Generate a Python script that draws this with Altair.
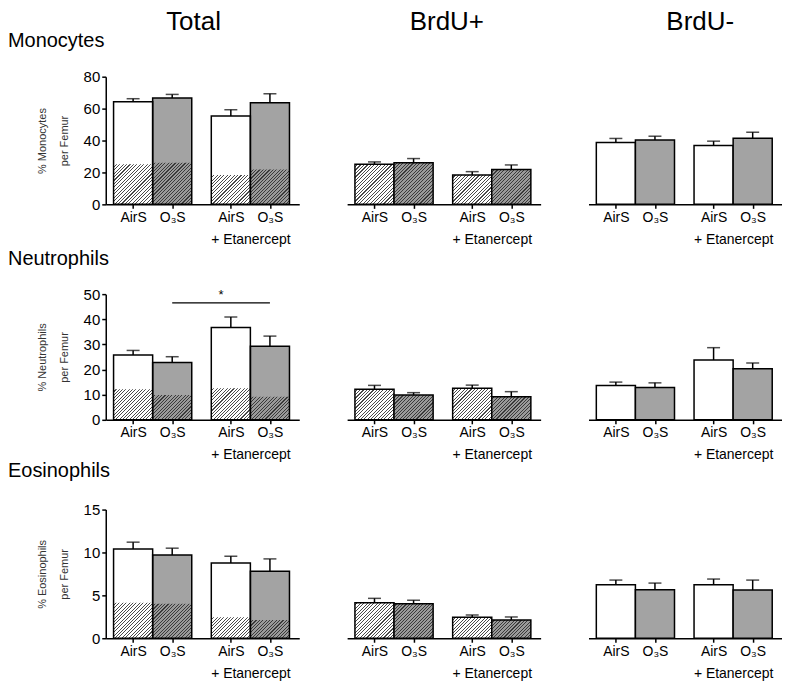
import json
import altair as alt
import pandas as pd

FONT = "Liberation Sans"

# ---------------- data ----------------
treatments = ["AirS", "O₃S", "AirS", "O₃S"]
groups = ["", "", "+ Etanercept", "+ Etanercept"]
column_titles = ["Total", "BrdU+", "BrdU-"]
cell_types = ["Monocytes", "Neutrophils", "Eosinophils"]
y_max = [80, 50, 15]
y_step = [20, 10, 5]

mono_total = [64.3, 66.6, 55.3, 63.7]
mono_total_sem = [1.9, 2.3, 4.0, 5.6]
mono_pos = [25.1, 26.0, 18.4, 21.8]
mono_pos_sem = [1.5, 2.7, 2.1, 2.9]
mono_neg = [38.7, 40.4, 36.9, 41.5]
mono_neg_sem = [2.6, 2.3, 2.7, 3.7]

neut_total = [25.8, 22.8, 36.7, 29.3]
neut_total_sem = [1.8, 2.3, 4.2, 4.0]
neut_pos = [12.2, 9.9, 12.6, 9.2]
neut_pos_sem = [1.5, 0.9, 1.2, 2.0]
neut_neg = [13.6, 12.9, 23.8, 20.3]
neut_neg_sem = [1.4, 1.8, 4.9, 2.3]

eos_total = [10.4, 9.7, 8.76, 7.8]
eos_total_sem = [0.8, 0.8, 0.8, 1.45]
eos_pos = [4.15, 4.03, 2.44, 2.13]
eos_pos_sem = [0.5, 0.4, 0.27, 0.35]
eos_neg = [6.24, 5.66, 6.24, 5.62]
eos_neg_sem = [0.54, 0.77, 0.66, 1.16]

# significance bar (Neutrophils, Total): O3S vs O3S + Etanercept
sig_panel = (1, 0)
sig_from, sig_to = 1, 3
sig_y = 46.5
sig_label = "*"

values = [
    [(mono_total, mono_total_sem), (mono_pos, mono_pos_sem), (mono_neg, mono_neg_sem)],
    [(neut_total, neut_total_sem), (neut_pos, neut_pos_sem), (neut_neg, neut_neg_sem)],
    [(eos_total, eos_total_sem), (eos_pos, eos_pos_sem), (eos_neg, eos_neg_sem)],
]
brdu_pos_means = [mono_pos, neut_pos, eos_pos]

# ---------------- layout / style ----------------
W = 194
HEIGHTS = [128, 126, 129]
GROUP_GAP = 0.5
X_DOMAIN = [-0.2, 4.75]
PX_PER_X = W / (X_DOMAIN[1] - X_DOMAIN[0])
FILL_RANGE = ["#ffffff", "#a3a3a3"]
HATCH_BG = ["#ffffff", "#9a9a9a"]
HATCH_FG = ["#4a4a4a", "#3a3a3a"]

group_order = list(dict.fromkeys(groups))
within = []
seen = {}
for g in groups:
    within.append(seen.get(g, 0))
    seen[g] = seen.get(g, 0) + 1
x_start = [group_order.index(g) * (2 + GROUP_GAP) + w for g, w in zip(groups, within)]
x_center = [s + 0.5 for s in x_start]

# axis tick values / labels
tick_vals = list(x_center)
tick_labels = {v: t for v, t in zip(x_center, treatments)}
group_centers = {}
for g in group_order:
    if g:
        cs = [c for c, gg in zip(x_center, groups) if gg == g]
        gc = sum(cs) / len(cs)
        group_centers[gc] = g
        tick_vals.append(gc)

expr = ""
for v, t in tick_labels.items():
    expr += f"datum.value === {v} ? {json.dumps(t, ensure_ascii=False)} : "
for v, g in group_centers.items():
    expr += f"datum.value === {v} ? {json.dumps(['\u00a0', g], ensure_ascii=False)} : "
expr += "''"
hide_test = " || ".join(f"datum.value === {v}" for v in group_centers) or "false"


def hatch(w, h, t):
    L = w + h
    n = max(1, round(L / 3.4))
    k = L / (w * w + h * h)
    frac = 0.33
    bg, fg = HATCH_BG[t], HATCH_FG[t]
    stops = []
    for j in range(n):
        a, b, c = j / n, (j + 1 - frac) / n, (j + 1) / n
        stops += [
            {"offset": a, "color": bg},
            {"offset": b, "color": bg},
            {"offset": b, "color": fg},
            {"offset": c, "color": fg},
        ]
    return {"gradient": "linear", "x1": 0, "y1": 0, "x2": k * w, "y2": k * h, "stops": stops}


def panel(r, c):
    H = HEIGHTS[r]
    means, sems = values[r][c]
    df = pd.DataFrame({
        "i": list(range(len(treatments))),
        "treat": treatments,
        "x0": x_start,
        "x1": [s + 1 for s in x_start],
        "xc": x_center,
        "value": means,
        "top": [m + s for m, s in zip(means, sems)],
        "hatch": brdu_pos_means[r],
    })
    xscale = alt.Scale(domain=X_DOMAIN, nice=False, zero=False)
    xaxis = alt.Axis(
        values=tick_vals, labelExpr=expr, title=None, grid=False,
        domainColor="black", domainWidth=1.5, tickColor="black", tickWidth=1.5,
        tickSize=4, tickOpacity={"condition": {"test": hide_test, "value": 0}, "value": 1},
        labelFont=FONT, labelFontSize=14, labelColor="black", labelPadding=2,
        labelLineHeight=22, labelOverlap=False, labelFlush=False,
    )
    yscale = alt.Scale(domain=[0, y_max[r]], nice=False, zero=True)
    if c == 0:
        yaxis = alt.Axis(
            values=list(range(0, y_max[r] + 1, y_step[r])),
            title=[f"% {cell_types[r]}", "per Femur"], titleFont=FONT, titleFontSize=11,
            titleFontWeight="normal", titleColor="#333333", titleLineHeight=22,
            titlePadding=14, labelFont=FONT, labelFontSize=15, labelColor="black",
            domainColor="black", domainWidth=1.5, tickColor="black", tickWidth=1.5,
            tickSize=4, labelPadding=2, grid=False, labelOverlap=False, labelFlush=False,
        )
    else:
        yaxis = None

    def X(f):
        return alt.X(f"{f}:Q", scale=xscale, axis=xaxis)

    def Y(f):
        return alt.Y(f"{f}:Q", scale=yscale, axis=yaxis)

    base = alt.Chart(df)
    layers = []
    if c == 1:
        for i in range(len(treatments)):
            h = means[i] * H / y_max[r]
            layers.append(
                base.transform_filter(f"datum.i == {i}")
                .mark_rect(fill=hatch(PX_PER_X, h, i % 2), stroke="black", strokeWidth=1.5)
                .encode(x=X("x0"), x2="x1:Q", y=Y("value"), y2=alt.datum(0))
            )
    else:
        layers.append(
            base.mark_rect(stroke="black", strokeWidth=1.5 if c == 2 else 0).encode(
                x=X("x0"), x2="x1:Q", y=Y("value"), y2=alt.datum(0),
                fill=alt.Fill("treat:N", scale=alt.Scale(domain=treatments[:2], range=FILL_RANGE), legend=None),
            )
        )
        if c == 0:
            for i in range(len(treatments)):
                h = brdu_pos_means[r][i] * H / y_max[r]
                layers.append(
                    base.transform_filter(f"datum.i == {i}")
                    .mark_rect(fill=hatch(PX_PER_X, h, i % 2), strokeWidth=0)
                    .encode(x=X("x0"), x2="x1:Q", y=Y("hatch"), y2=alt.datum(0))
                )
            layers.append(
                base.mark_rect(fillOpacity=0, stroke="black", strokeWidth=1.5).encode(
                    x=X("x0"), x2="x1:Q", y=Y("value"), y2=alt.datum(0)
                )
            )
    layers.append(
        base.mark_rule(color="black", strokeWidth=1.5).encode(x=X("xc"), y=Y("value"), y2="top:Q")
    )
    layers.append(
        base.mark_tick(orient="horizontal", size=13, thickness=1.5, color="black").encode(
            x=X("xc"), y=Y("top")
        )
    )
    if (r, c) == sig_panel:
        sdf = pd.DataFrame({
            "a": [x_center[sig_from]], "b": [x_center[sig_to]],
            "m": [(x_center[sig_from] + x_center[sig_to]) / 2],
            "y": [sig_y], "label": [sig_label],
        })
        sb = alt.Chart(sdf)
        layers.append(sb.mark_rule(color="black", strokeWidth=1.3).encode(x=X("a"), x2="b:Q", y=Y("y")))
        layers.append(
            sb.mark_text(baseline="bottom", dy=-1, fontSize=13, font=FONT, color="black").encode(
                x=X("m"), y=Y("y"), text="label:N"
            )
        )

    ch = alt.layer(*layers).properties(width=W, height=H)
    if r == 0:
        ch = ch.properties(title=alt.TitleParams(
            column_titles[c], fontSize=26, anchor="middle", frame="group",
            offset=35 if c == 0 else 42, dx=[-9, 3, 15][c],
        ))
    elif c == 0:
        ch = ch.properties(title=alt.TitleParams(
            cell_types[r], fontSize=20, anchor="start", frame="group",
            offset=[0, 18, 22][r], dx=-98,
        ))
    return ch


panels = [panel(r, c) for r in range(3) for c in range(3)]

chart = alt.concat(
    *panels,
    columns=3,
    spacing=alt.RowColnumber(row=90, column=48),
    bounds="flush",
    title=alt.TitleParams(cell_types[0], fontSize=20, anchor="start", frame="bounds", dy=46),
    padding=0,
).configure_view(strokeWidth=0).configure_title(font=FONT, fontWeight="normal", color="black")

chart.save("out.html", embed_options={"renderer": "svg", "actions": False})
